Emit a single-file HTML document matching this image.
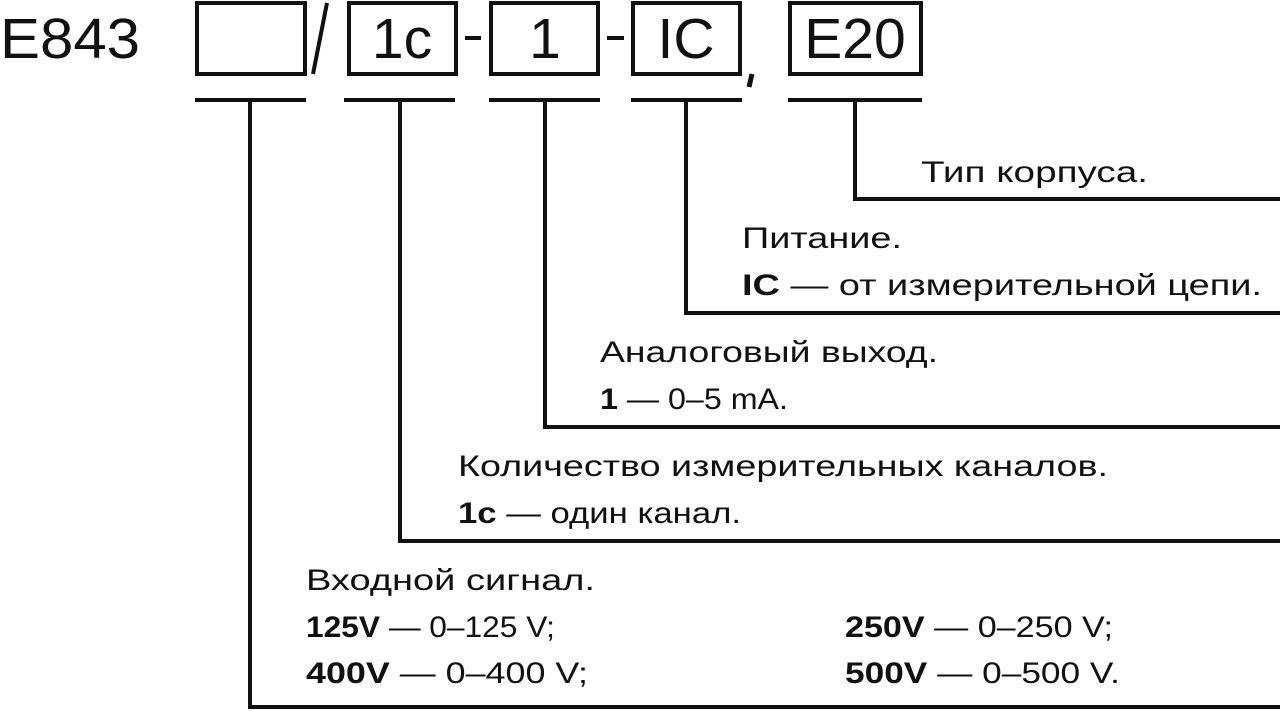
<!DOCTYPE html>
<html><head><meta charset="utf-8"><style>html,body{margin:0;padding:0;background:#fff;width:1280px;height:711px;overflow:hidden}svg{display:block}text{font-family:"Liberation Sans",sans-serif;fill:#111}</style></head><body>
<svg width="1280" height="711" viewBox="0 0 1280 711" xmlns="http://www.w3.org/2000/svg">
<g fill="none" stroke="#111" stroke-width="4" stroke-linecap="butt">
<rect x="197" y="3" width="108" height="71"/>
<rect x="349" y="3" width="107" height="71"/>
<rect x="491" y="3" width="107" height="71"/>
<rect x="633" y="3" width="107" height="71"/>
<rect x="790" y="3" width="131" height="71"/>
<line x1="327" y1="3" x2="313" y2="74"/>
<line x1="465" y1="38" x2="481" y2="38"/>
<line x1="607" y1="38" x2="624" y2="38"/>
<line x1="752" y1="74" x2="749" y2="87" stroke-width="5"/>
<line x1="195" y1="100" x2="306" y2="100"/>
<line x1="344" y1="100" x2="455" y2="100"/>
<line x1="489" y1="100" x2="600" y2="100"/>
<line x1="631" y1="100" x2="742" y2="100"/>
<line x1="788" y1="100" x2="922" y2="100"/>
<polyline points="250,100 250,707 1280,707"/>
<polyline points="400,100 400,541 1280,541"/>
<polyline points="545,100 545,427 1280,427"/>
<polyline points="686,100 686,313 1280,313"/>
<polyline points="855,100 855,199 1280,199"/>
</g>
<g font-size="57">
<text x="0" y="58" textLength="140" lengthAdjust="spacingAndGlyphs">E843</text>
<text x="402" y="58" text-anchor="middle">1c</text>
<text x="545" y="58" text-anchor="middle">1</text>
<text x="686" y="58" text-anchor="middle">IC</text>
<text x="855" y="58" text-anchor="middle">E20</text>
</g>
<g font-size="30">
<text x="921" y="182" textLength="227" lengthAdjust="spacingAndGlyphs">Тип корпуса.</text>
<text x="742" y="248" textLength="160" lengthAdjust="spacingAndGlyphs">Питание.</text>
<text x="742" y="295" textLength="520" lengthAdjust="spacingAndGlyphs"><tspan font-weight="bold">IC</tspan> — от измерительной цепи.</text>
<text x="600" y="362" textLength="338" lengthAdjust="spacingAndGlyphs">Аналоговый выход.</text>
<text x="600" y="409" textLength="188" lengthAdjust="spacingAndGlyphs"><tspan font-weight="bold">1</tspan> — 0–5 mA.</text>
<text x="458" y="476" textLength="650" lengthAdjust="spacingAndGlyphs">Количество измерительных каналов.</text>
<text x="458" y="523" textLength="283" lengthAdjust="spacingAndGlyphs"><tspan font-weight="bold">1c</tspan> — один канал.</text>
<text x="306" y="590" textLength="289" lengthAdjust="spacingAndGlyphs">Входной сигнал.</text>
<text x="306" y="637" textLength="249" lengthAdjust="spacingAndGlyphs"><tspan font-weight="bold">125V</tspan> — 0–125 V;</text>
<text x="306" y="683" textLength="282" lengthAdjust="spacingAndGlyphs"><tspan font-weight="bold">400V</tspan> — 0–400 V;</text>
<text x="845" y="637" textLength="268" lengthAdjust="spacingAndGlyphs"><tspan font-weight="bold">250V</tspan> — 0–250 V;</text>
<text x="845" y="683" textLength="275" lengthAdjust="spacingAndGlyphs"><tspan font-weight="bold">500V</tspan> — 0–500 V.</text>
</g>
</svg>
</body></html>
